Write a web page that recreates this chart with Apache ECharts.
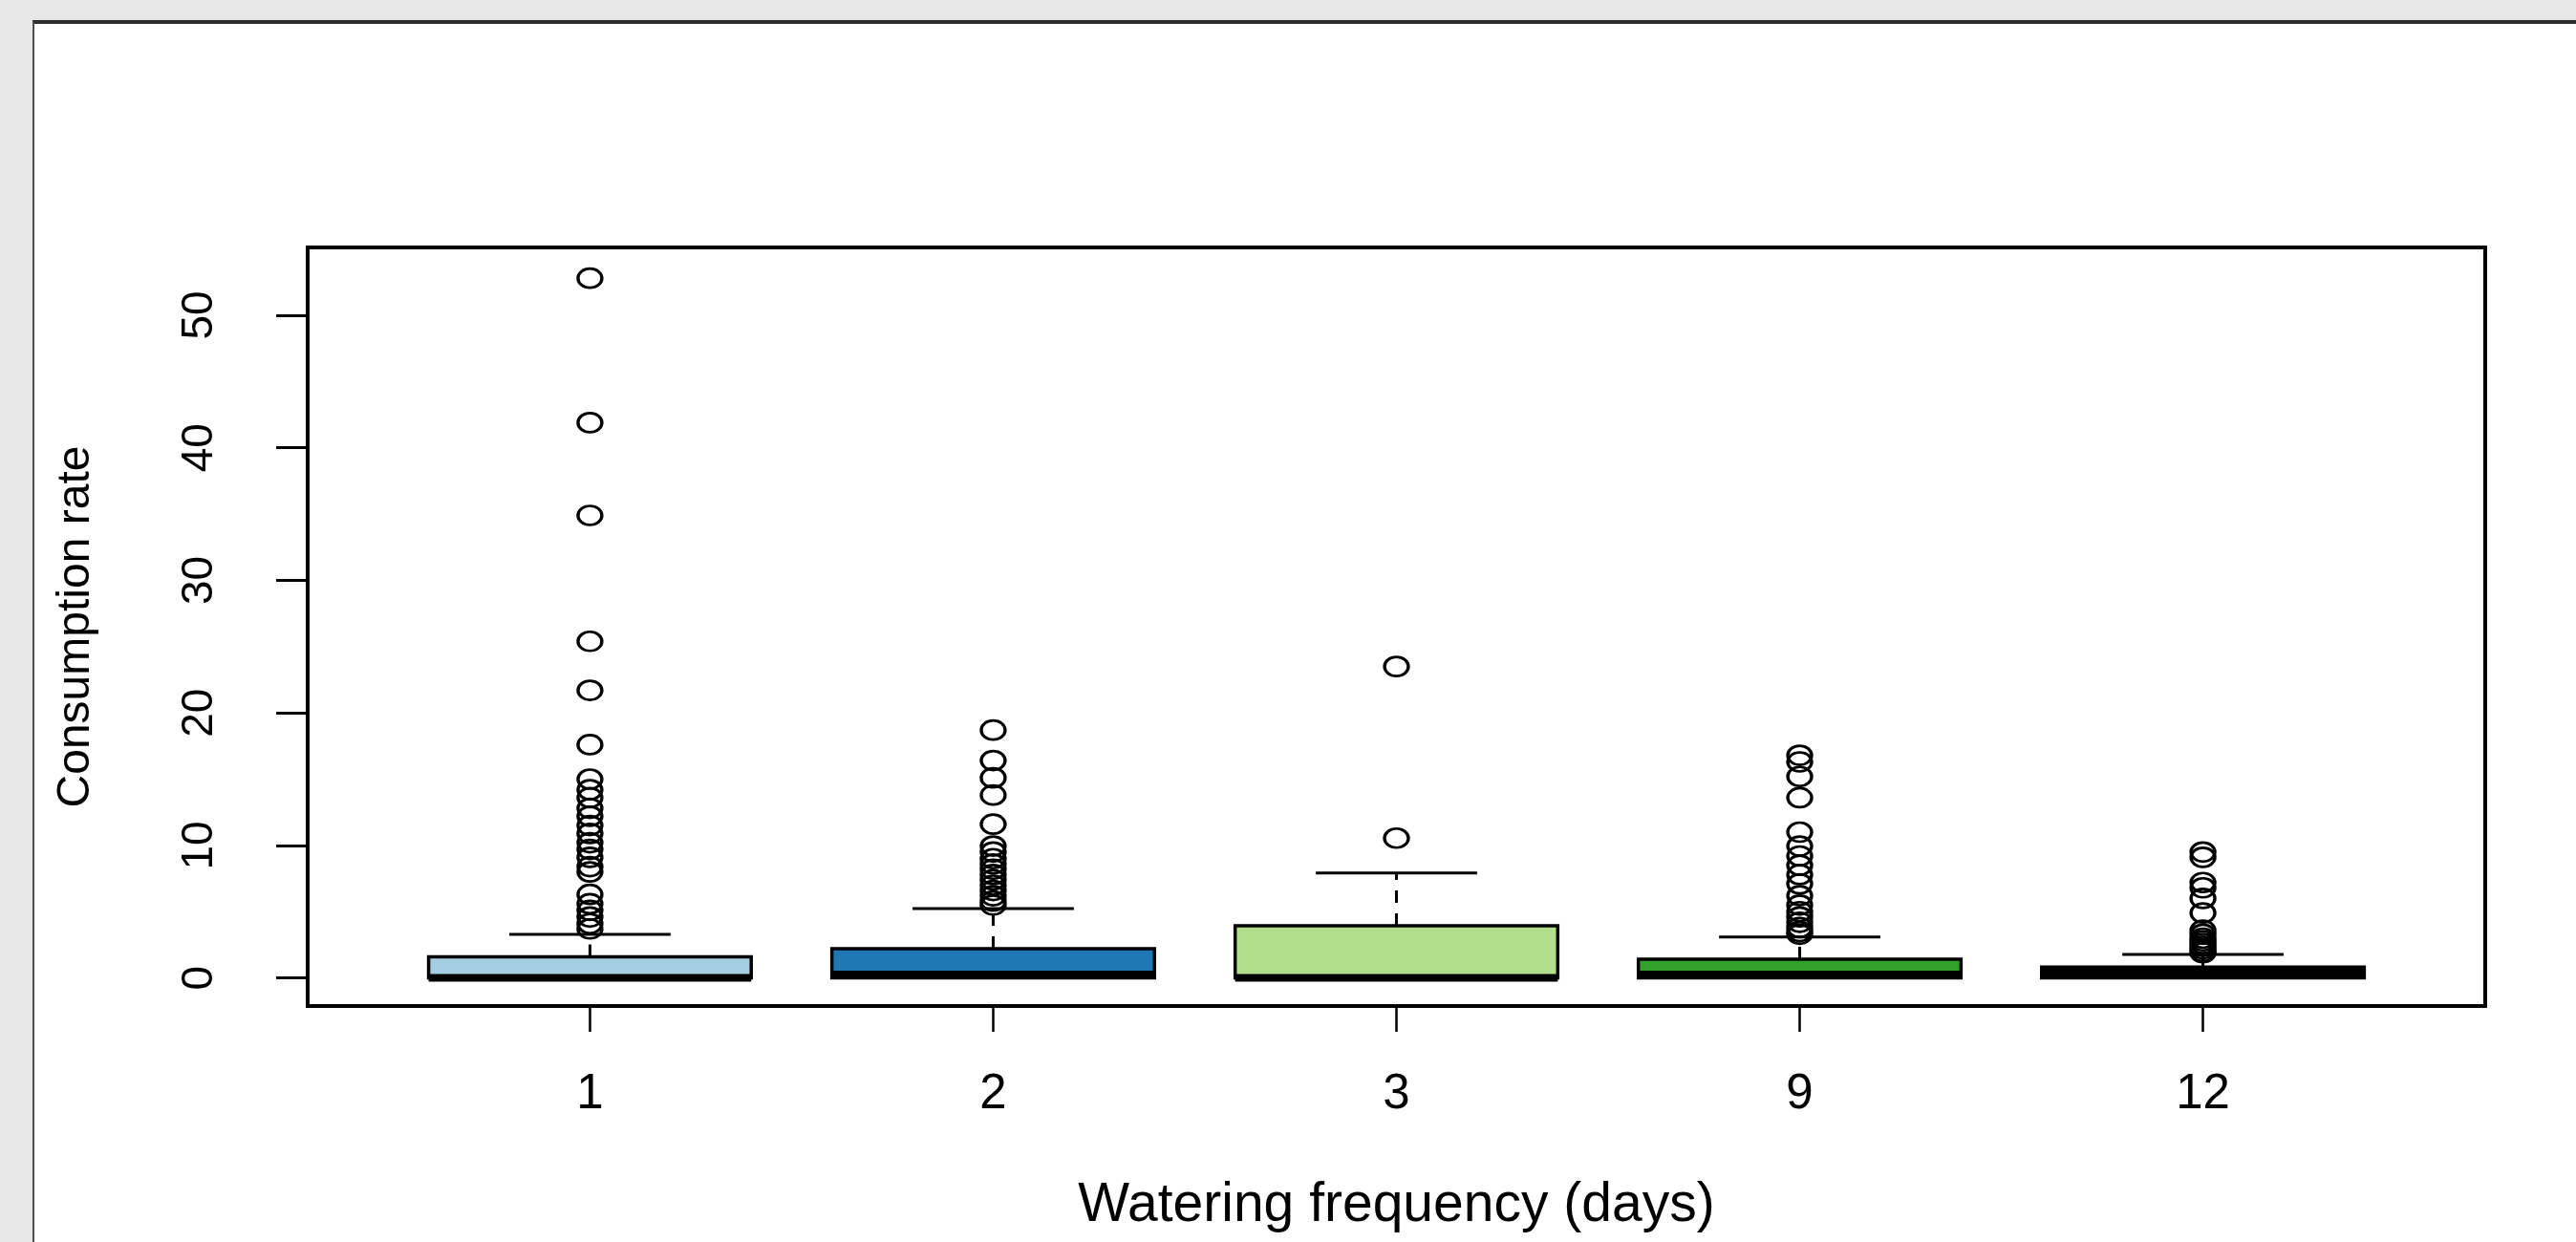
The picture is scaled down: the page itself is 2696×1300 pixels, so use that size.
<!DOCTYPE html>
<html>
<head>
<meta charset="utf-8">
<title>Consumption rate by watering frequency</title>
<script src="https://cdn.jsdelivr.net/npm/echarts@6/dist/echarts.min.js"></script>
<style>
    html, body { margin: 0; padding: 0; background: #e7e7e7; }
    #panel {
        position: absolute; left: 34px; top: 21px; width: 2662px; height: 1279px;
        background: #fff; border-top: 4px solid #2e2e2e; border-left: 2px solid #505050;
        box-sizing: border-box;
    }
    #chart { position: absolute; left: 0; top: 0; width: 2696px; height: 1300px; }
</style>
</head>
<body>
<div id="panel"></div>
<div id="chart"></div>
<script>
// Watering frequency groups (days)
const groups = ['1', '2', '3', '9', '12'];
const boxColors = ['#A6CEE3', '#1F78B4', '#B2DF8A', '#33A02C', '#FB9A99'];

// Box statistics
const lowerWhisker = [0, 0, 0, 0, 0];
const lowerQuartile = [0, 0, 0, 0, 0];
const medians = [0, 0.25, 0, 0.25, 0.4];
const upperQuartile = [1.59, 2.21, 3.94, 1.42, 0.81];
const upperWhisker = [3.29, 5.24, 7.91, 3.08, 1.78];

// Outliers per group
const outliers1 = [52.8, 41.9, 34.9, 25.4, 21.7, 17.6, 15.0, 14.2, 13.6, 12.8, 12.2, 11.5, 10.9, 10.2,
    9.7, 9.1, 8.4, 8.0, 6.3, 5.6, 5.1, 4.6, 4.1, 3.7];
const outliers2 = [18.7, 16.4, 15.1, 13.8, 11.6, 9.95, 9.5, 9.0, 8.6, 8.2, 7.8, 7.4, 7.0, 6.6, 6.2, 5.8, 5.5];
const outliers3 = [23.5, 10.55];
const outliers4 = [16.8, 16.3, 15.2, 13.6, 11.0, 9.95, 9.2, 8.5, 7.8, 7.1, 6.2, 5.5, 5.0, 4.6, 4.2, 3.8, 3.5, 3.3];
const outliers5 = [9.5, 9.1, 7.2, 6.8, 6.0, 4.9, 3.6, 3.3, 3.0, 2.8, 2.6, 2.4, 2.2, 2.0, 1.9];
const outliers = [outliers1, outliers2, outliers3, outliers4, outliers5];

const yTicks = [0, 10, 20, 30, 40, 50];
const xTicks = [1, 2, 3, 4, 5];

const chart = echarts.init(document.getElementById('chart'));

const boxData = groups.map((g, i) => [
    i + 1, lowerWhisker[i], lowerQuartile[i], medians[i], upperQuartile[i], upperWhisker[i]
]);
const outlierData = [];
outliers.forEach((list, i) => list.forEach(v => outlierData.push([i + 1, v])));

function renderBox(params, api) {
    const x = api.value(0);
    const pLo = api.coord([x, api.value(1)]);
    const pQ1 = api.coord([x, api.value(2)]);
    const pMed = api.coord([x, api.value(3)]);
    const pQ3 = api.coord([x, api.value(4)]);
    const pHi = api.coord([x, api.value(5)]);
    const halfBox = api.size([0.4, 0])[0];
    const halfCap = api.size([0.2, 0])[0];
    const cx = pQ3[0];
    const black = '#000';
    return {
        type: 'group',
        children: [
            {
                type: 'line',
                shape: {x1: cx, y1: pQ3[1], x2: cx, y2: pHi[1]},
                style: {stroke: black, lineWidth: 3, lineDash: [13, 11]}
            },
            {
                type: 'line',
                shape: {x1: cx, y1: pQ1[1], x2: cx, y2: pLo[1]},
                style: {stroke: black, lineWidth: 3, lineDash: [13, 11]}
            },
            {
                type: 'line',
                shape: {x1: cx - halfCap, y1: pHi[1], x2: cx + halfCap, y2: pHi[1]},
                style: {stroke: black, lineWidth: 3}
            },
            {
                type: 'line',
                shape: {x1: cx - halfCap, y1: pLo[1], x2: cx + halfCap, y2: pLo[1]},
                style: {stroke: black, lineWidth: 3}
            },
            {
                type: 'rect',
                shape: {x: cx - halfBox, y: pQ3[1], width: halfBox * 2, height: pQ1[1] - pQ3[1]},
                style: {fill: boxColors[params.dataIndex], stroke: black, lineWidth: 3.5}
            },
            {
                type: 'line',
                shape: {x1: cx - halfBox, y1: pMed[1], x2: cx + halfBox, y2: pMed[1]},
                style: {stroke: black, lineWidth: 8}
            }
        ]
    };
}

const labelFont = {
    fontFamily: 'Liberation Sans',
    color: '#000',
    fontSize: 51
};

chart.setOption({
    animation: false,
    backgroundColor: 'transparent',
    grid: {
        left: 322,
        top: 259,
        right: 95,
        bottom: 247,
        show: true,
        borderColor: '#000',
        borderWidth: 4,
        backgroundColor: 'transparent'
    },
    xAxis: {
        type: 'value',
        min: 0.3,
        max: 5.7,
        name: 'Watering frequency (days)',
        nameLocation: 'middle',
        nameGap: 181,
        nameTextStyle: Object.assign({}, labelFont, {fontSize: 57}),
        axisLine: {show: false, onZero: false},
        splitLine: {show: false},
        axisTick: {
            customValues: xTicks,
            length: 27,
            lineStyle: {color: '#000', width: 2.5}
        },
        axisLabel: Object.assign({}, labelFont, {
            customValues: xTicks,
            margin: 67,
            formatter: v => groups[Math.round(v) - 1]
        })
    },
    yAxis: {
        type: 'value',
        min: -2.12,
        max: 55.12,
        name: 'Consumption rate',
        nameLocation: 'middle',
        nameGap: 218,
        nameTextStyle: Object.assign({}, labelFont, {fontSize: 48}),
        axisLine: {show: false, onZero: false},
        splitLine: {show: false},
        axisTick: {
            customValues: yTicks,
            length: 33,
            lineStyle: {color: '#000', width: 3}
        },
        axisLabel: Object.assign({}, labelFont, {
            customValues: yTicks,
            rotate: 90,
            margin: 90,
            fontSize: 46
        })
    },
    series: [
        {
            type: 'custom',
            renderItem: renderBox,
            encode: {x: 0, y: [1, 2, 3, 4, 5]},
            data: boxData,
            z: 2
        },
        {
            type: 'scatter',
            data: outlierData,
            symbol: 'path://M0,10A10,10,0,1,1,20,10A10,10,0,1,1,0,10Z',
            symbolSize: [25, 20],
            itemStyle: {color: 'rgba(0,0,0,0)', borderColor: '#000', borderWidth: 3, opacity: 1},
            z: 3
        }
    ]
});
</script>
</body>
</html>
